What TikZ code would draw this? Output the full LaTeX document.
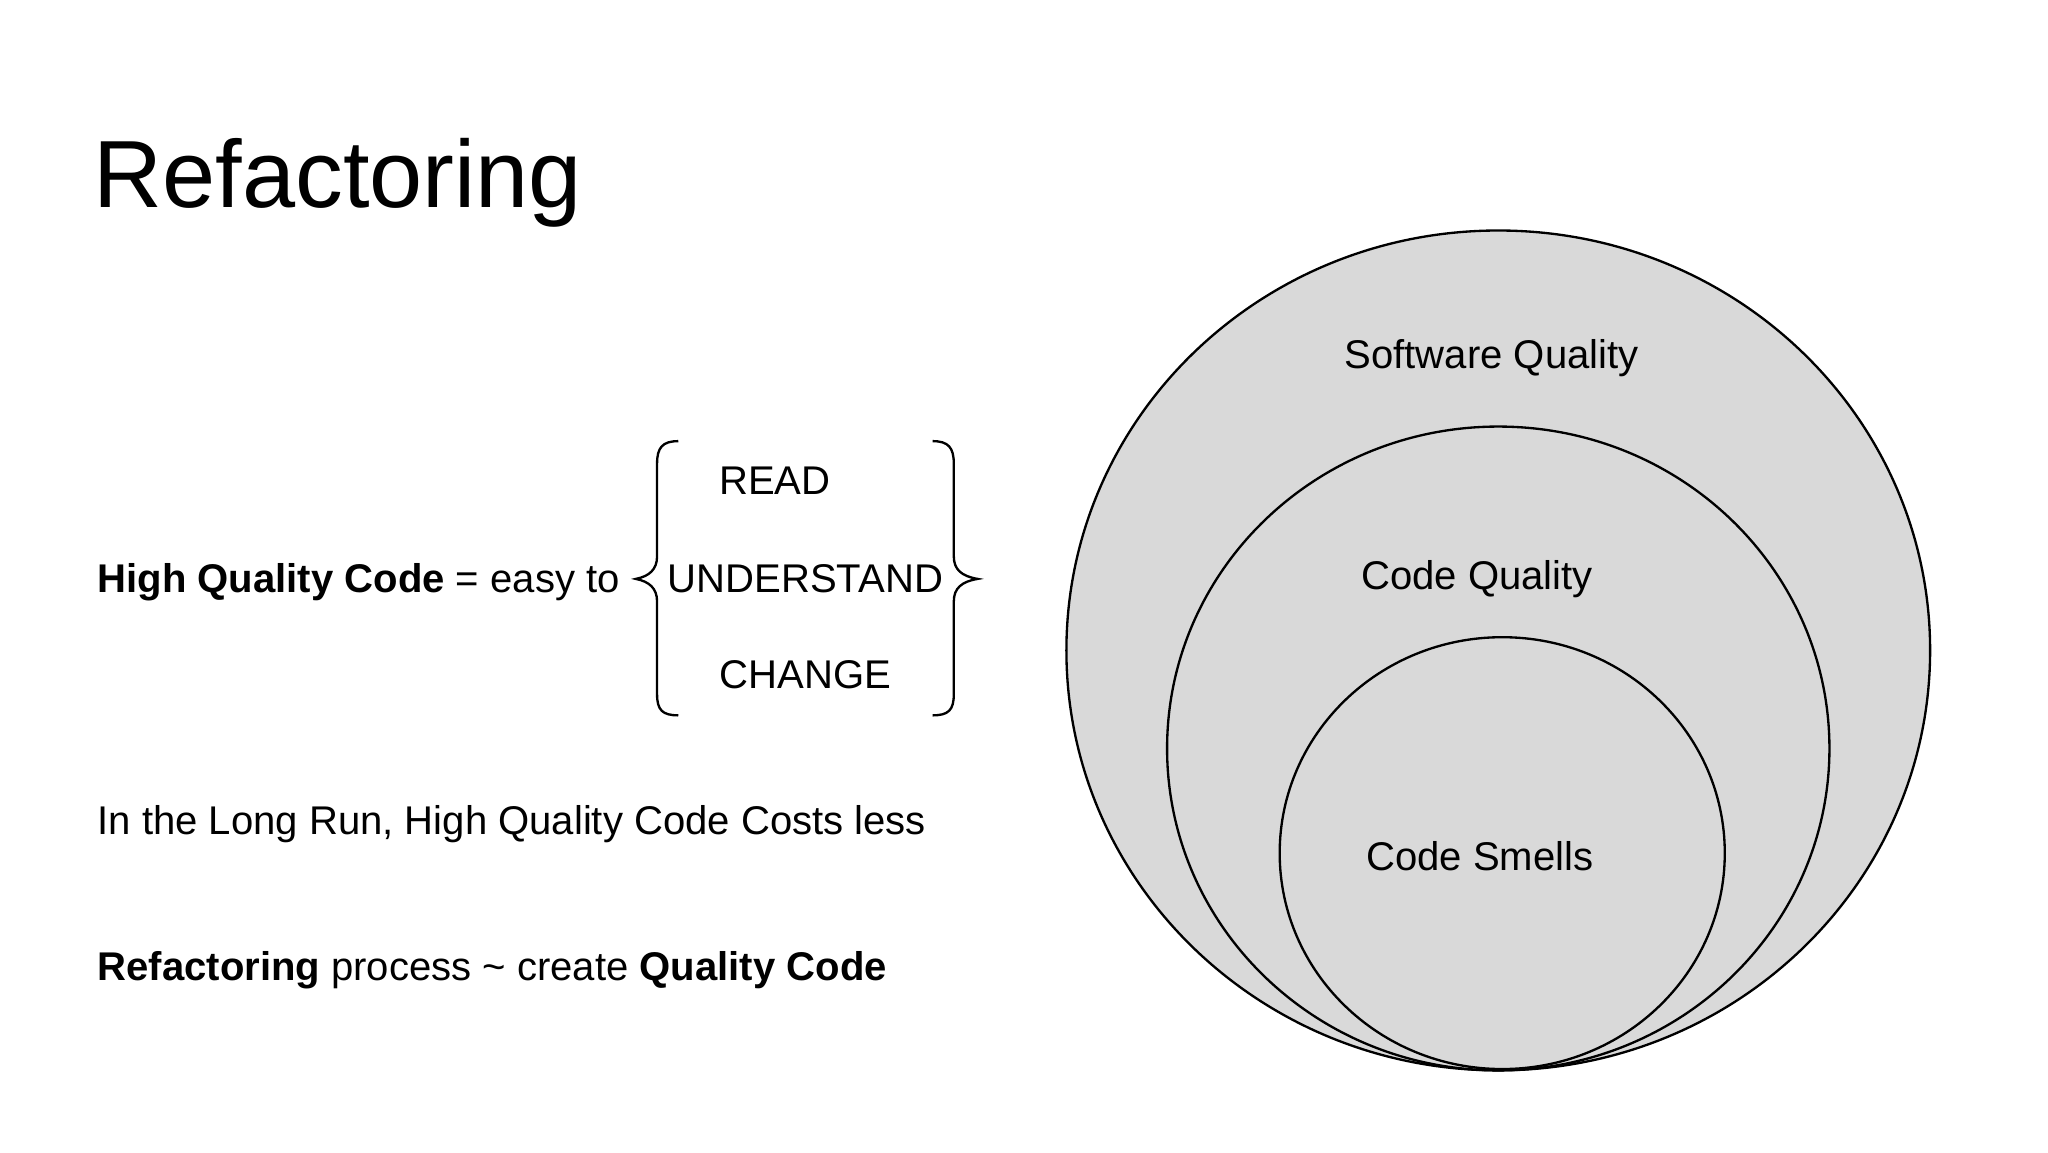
\documentclass[tikz,border=0pt]{standalone}
\usepackage{fontspec}
\setmainfont{Liberation Sans}
\begin{document}
\begin{tikzpicture}[x=0.01cm,y=-0.01cm,
  circ/.style={draw=black,fill=gray!30,line width=0.5pt},
  body/.style={font=\fontsize{8.6pt}{10pt}\selectfont,inner sep=0pt},
  brace/.style={draw=black,line width=0.5pt}]
\useasboundingbox[fill=white] (0,0) rectangle (1546,870);
\node[anchor=base west,inner sep=0pt,font=\fontsize{20.5pt}{24pt}\selectfont] (title) at (70,157) {Refactoring};
\node[body,anchor=base west] (hq) at (73,447) {\textbf{High Quality Code} = easy to};
\node[body,anchor=base west] (lr) at (73,630) {In the Long Run, High Quality Code Costs less};
\node[body,anchor=base west] (rp) at (73,740) {\textbf{Refactoring} process \textasciitilde{} create \textbf{Quality Code}};
\node[body,anchor=base] (rd) at (585,373) {READ};
\node[body,anchor=base] (un) at (608,447) {UNDERSTAND};
\node[body,anchor=base] (ch) at (608,520) {CHANGE};
\draw[brace] (512,333) .. controls (500,333) and (496,338) .. (496,350) -- (496,420)
  .. controls (496,430) and (490,435) .. (480,437)
  .. controls (490,439) and (496,444) .. (496,454) -- (496,524)
  .. controls (496,536) and (500,540) .. (512,540);
\draw[brace] (704,333) .. controls (716,333) and (720,338) .. (720,350) -- (720,420)
  .. controls (720,430) and (726,435) .. (738,437)
  .. controls (726,439) and (720,444) .. (720,454) -- (720,524)
  .. controls (720,536) and (716,540) .. (704,540);
\draw[circ] (1131,491) ellipse [x radius=326,y radius=317];
\draw[circ] (1131,565) ellipse [x radius=250,y radius=243];
\draw[circ] (1134,644) ellipse [x radius=168,y radius=163];
\node[body] (sq) at (1126,270) {Software Quality};
\node[body] (cq) at (1115,437) {Code Quality};
\node[body] (cs) at (1117,646) {Code Smells};
\end{tikzpicture}
\end{document}
